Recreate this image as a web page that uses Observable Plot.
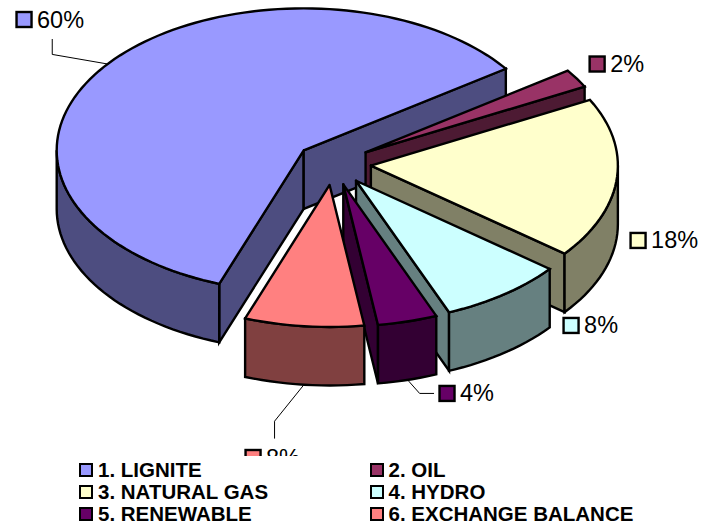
<!DOCTYPE html>
<html>
<head>
<meta charset="utf-8">
<script src="https://cdn.jsdelivr.net/npm/d3@7"></script>
<script src="https://cdn.jsdelivr.net/npm/@observablehq/plot@0.6"></script>
<style>
html,body{margin:0;padding:0;background:#fff;}
#legend{position:relative;width:704px;height:72px;font:bold 20.5px "Liberation Sans",Arial,sans-serif;color:#000;}
#legend .item{position:absolute;display:flex;align-items:center;height:22px;white-space:nowrap;}
#legend .sw{box-sizing:border-box;width:14px;height:14px;border:2px solid #000;margin-right:5px;}
</style>
</head>
<body>
<div id="chart"></div>
<div id="legend"></div>
<script>
// ---- data ----
const categories = ["1. LIGNITE", "2. OIL", "3. NATURAL GAS", "4. HYDRO", "5. RENEWABLE", "6. EXCHANGE BALANCE"];
const shares = [59.7, 2.1, 18.3, 8.2, 3.9, 7.8];
const shareLabels = ["60%", "2%", "18%", "8%", "4%", "8%"];
const topColors = ["#9999FF", "#993366", "#FFFFCC", "#CCFFFF", "#660066", "#FF8080"];
const sideColors = ["#4D4D80", "#4D1A33", "#808066", "#668080", "#330033", "#804040"];

// ---- pie layout ----
const W = 704, H = 456;
const cx = 333, cy = 163, rx = 247, ry = 142, depth = 58.5, explode = 0.152, startDeg = -160;
// label placement relative to each slice's outer rim midpoint
const labelLayout = [
  {sx: -90.6, sy: -44, leader: [[-55.4, -9.6], [-55.4, -24.6]]},
  {sx: 13.5, sy: -14},
  {sx: 14.3, sy: 62},
  {sx: 59.8, sy: 31.6},
  {sx: 32.4, sy: 14, front: true, leader: [[12, 13.5], [26, 13.5]]},
  {sx: -57.9, sy: 73.3, front: true, leader: [[-29.4, 36.5], [-29.4, 53.5]]}
];

const rad = d => d * Math.PI / 180;
let acc = startDeg;
const slices = shares.map((v, i) => {
  const t0 = acc, t1 = acc + v * 3.6;
  acc = t1;
  const mid = rad((t0 + t1) / 2);
  const ax = cx + explode * rx * Math.sin(mid);
  const ay = cy - explode * ry * Math.cos(mid);
  const at = d => [ax + rx * Math.sin(rad(d)), ay - ry * Math.cos(rad(d))];
  return {i, t0, t1, ax, ay, at, midDeg: (t0 + t1) / 2};
});
const arc = (s, a, b) => {
  const ds = d3.range(a, b, 2);
  ds.push(b);
  return ds.map(s.at);
};
const down = p => [p[0], p[1] + depth];
const poly = (pts, fill, sw = 2.4) => Plot.line([...pts, pts[0]], {
  x: d => d[0], y: d => d[1], fill, stroke: "#000", strokeWidth: sw,
  strokeLinejoin: "miter", strokeMiterlimit: 8, curve: "linear"
});

const marks = [];
// slices, back to front
for (const s of slices) {
  const side = sideColors[s.i];
  const apex = [s.ax, s.ay];
  if (Math.sin(rad(s.t0)) < 0) {
    const r = s.at(s.t0);
    marks.push(poly([apex, r, down(r), down(apex)], side));
  }
  if (Math.sin(rad(s.t1)) > 0) {
    const r = s.at(s.t1);
    marks.push(poly([apex, r, down(r), down(apex)], side));
  }
  // outer wall: the front part of the rim only (90..270 degrees)
  for (const k of [0, 360, -360]) {
    const a = Math.max(s.t0 + k, 90), b = Math.min(s.t1 + k, 270);
    if (b > a) {
      const rim = arc(s, a, b);
      marks.push(poly([...rim, ...rim.slice().reverse().map(down)], side));
    }
  }
  marks.push(poly([apex, ...arc(s, s.t0, s.t1)], topColors[s.i]));
}
// labels and leaders
for (const s of slices) {
  const lay = labelLayout[s.i];
  let m = s.at(s.midDeg);
  if (lay.front) m = down(m);
  const lx = m[0] + lay.sx, ly = m[1] + lay.sy;
  if (lay.leader) {
    const pts = [m, ...lay.leader.map(o => [m[0] + o[0], m[1] + o[1]])];
    marks.push(Plot.line(pts, {x: d => d[0], y: d => d[1], stroke: "#000", strokeWidth: 1, curve: "linear"}));
  }
  marks.push(Plot.rect([{x: lx, y: ly}], {
    x1: d => d.x, x2: d => d.x + 15, y1: d => d.y - 7.5, y2: d => d.y + 7.5,
    fill: topColors[s.i], stroke: "#000", strokeWidth: 2.4
  }));
  marks.push(Plot.text([{x: lx + 20, y: ly, t: shareLabels[s.i]}], {
    x: "x", y: "y", text: "t", textAnchor: "start", lineAnchor: "middle",
    fontSize: 23.5, fontFamily: "Liberation Sans", fill: "#000"
  }));
}

const chart = Plot.plot({
  width: W, height: H, margin: 0,
  x: {domain: [0, W], range: [0, W], axis: null},
  y: {domain: [0, H], range: [0, H], axis: null},
  marks
});
document.getElementById("chart").appendChild(chart);

// ---- legend ----
const legend = document.getElementById("legend");
categories.forEach((c, i) => {
  const el = document.createElement("div");
  el.className = "item";
  el.style.left = (i % 2 ? 369.5 : 79) + "px";
  el.style.top = (3 + Math.floor(i / 2) * 22) + "px";
  const sw = document.createElement("span");
  sw.className = "sw";
  sw.style.background = topColors[i];
  const tx = document.createElement("span");
  tx.textContent = c;
  el.append(sw, tx);
  legend.appendChild(el);
});
</script>
</body>
</html>
